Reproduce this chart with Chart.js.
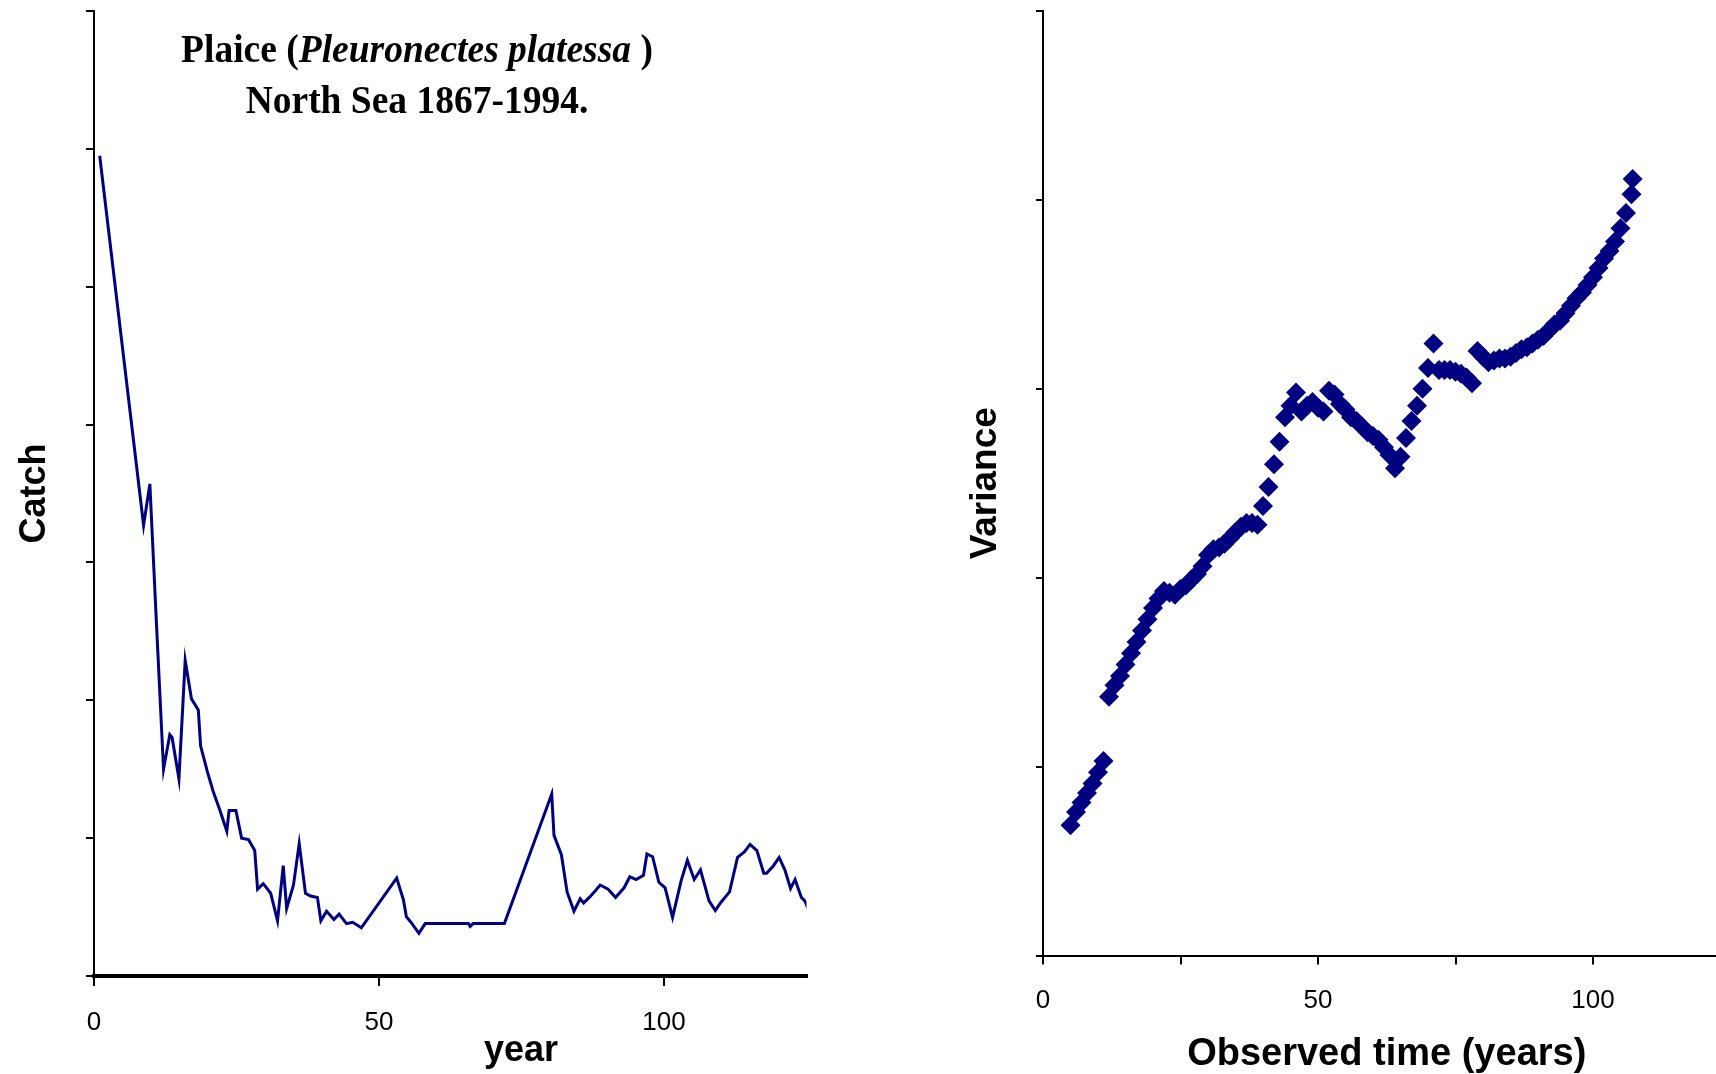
<!DOCTYPE html>
<html>
<head>
<meta charset="utf-8">
<script src="https://cdn.jsdelivr.net/npm/chart.js@4.4.1/dist/chart.umd.min.js"></script>
<style>
    html, body { margin: 0; padding: 0; background: #fff; overflow: hidden; }
    body { width: 1716px; height: 1074px; position: relative; }
    canvas { position: absolute; top: 0; }
    #catch-chart { left: 0; }
    #variance-chart { left: 880px; }
    .chart-title {
        position: absolute; left: 117px; top: 24px; width: 600px;
        text-align: center; font-family: 'Liberation Serif', 'Times New Roman', serif;
        font-weight: bold; font-size: 37.5px; line-height: 47.5px; color: #000;
        transform: scale(1, 1.06); transform-origin: 50% 0;
    }
    .axis-label {
        position: absolute; font-family: 'Liberation Sans', Arial, sans-serif;
        font-weight: bold; font-size: 36px; line-height: 40px; color: #000;
    }
</style>
</head>
<body>
<canvas id="catch-chart" width="860" height="1074"></canvas>
<canvas id="variance-chart" width="880" height="1074"></canvas>
<div class="chart-title">Plaice (<i>Pleuronectes platessa</i> )<br>North Sea 1867-1994.</div>
<div class="axis-label" style="left:441px; top:1029px; width:160px; text-align:center;">year</div>
<script>
// left panel: catch per year (vertices)
const catchYears = [1, 8.7, 9.8, 11, 12.2, 13.3, 13.7, 14.9, 16, 17.1, 18.3, 18.7, 19.9, 20.9, 22.1, 23.3,
    23.7, 24.9, 25.9, 27.1, 28.2, 28.7, 29.7, 31, 32.2, 33.2, 33.8, 35, 36, 37.1, 38, 39.2, 39.8, 40.8,
    42.1, 43, 44.3, 45.4, 46.9, 53.1, 54.3, 54.8, 55.6, 57, 58.1, 65.7, 66, 66.5, 72, 80.3, 80.7, 82, 83,
    84.2, 85.3, 85.9, 86.9, 88, 88.8, 90.2, 91.5, 93, 94, 95.1, 96.4, 97, 98, 99.1, 100.2, 101.5, 103,
    104.1, 105.3, 106.4, 107.9, 109, 109.9, 111.5, 112.9, 114.1, 115.1, 116.3, 117.5, 118, 119.2, 120.2,
    121.2, 122.2, 123, 124.1, 124.7, 126];
const catchValues = [5.95, 3.27, 3.57, 2.52, 1.50, 1.75, 1.73, 1.43, 2.29, 2.01, 1.93, 1.67, 1.48, 1.34,
    1.20, 1.05, 1.20, 1.20, 1.00, 0.99, 0.91, 0.63, 0.67, 0.60, 0.40, 0.80, 0.49, 0.66, 0.96, 0.60, 0.58,
    0.57, 0.40, 0.47, 0.41, 0.45, 0.38, 0.39, 0.35, 0.71, 0.55, 0.43, 0.39, 0.31, 0.38, 0.38, 0.36, 0.38,
    0.38, 1.32, 1.02, 0.88, 0.61, 0.47, 0.56, 0.53, 0.57, 0.62, 0.66, 0.63, 0.57, 0.64, 0.72, 0.70, 0.73,
    0.885, 0.865, 0.68, 0.64, 0.425, 0.69, 0.84, 0.70, 0.77, 0.545, 0.475, 0.53, 0.61, 0.86, 0.90, 0.955,
    0.91, 0.745, 0.745, 0.80, 0.86, 0.77, 0.635, 0.70, 0.57, 0.545, 0.42];

// right panel: variance against observed time
const observedTimes = [5, 6, 7, 8, 9, 10, 11, 12, 13, 14, 15, 16, 17, 18, 19, 20, 21, 22, 23, 24, 25, 26,
    27, 28, 29, 30, 31, 32, 33, 34, 35, 36, 37, 38, 39, 40, 41, 42, 43, 44, 45, 46, 47, 48, 49, 50, 51,
    52, 53, 54, 55, 56, 57, 58, 59, 60, 61, 62, 63, 64, 65, 66, 67, 68, 69, 70, 71, 72, 73, 74, 75, 76,
    77, 78, 79, 80, 81, 82, 83, 84, 85, 86, 87, 88, 89, 90, 91, 92, 93, 94, 95, 96, 97, 98, 99, 100, 101,
    102, 103, 104, 105, 106, 107, 107.2];
const variances = [0.69, 0.76, 0.81, 0.86, 0.91, 0.97, 1.03, 1.37, 1.43, 1.48, 1.54, 1.60, 1.66, 1.72,
    1.78, 1.84, 1.89, 1.93, 1.92, 1.91, 1.94, 1.96, 1.99, 2.02, 2.06, 2.12, 2.15, 2.16, 2.18, 2.21, 2.24,
    2.27, 2.29, 2.29, 2.28, 2.38, 2.48, 2.60, 2.72, 2.85, 2.91, 2.98, 2.88, 2.91, 2.93, 2.90, 2.88, 2.99,
    2.97, 2.92, 2.89, 2.85, 2.83, 2.80, 2.77, 2.75, 2.73, 2.69, 2.65, 2.58, 2.64, 2.74, 2.83, 2.91, 3.00,
    3.11, 3.24, 3.10, 3.10, 3.10, 3.09, 3.08, 3.06, 3.03, 3.20, 3.17, 3.14, 3.15, 3.16, 3.16, 3.17, 3.19,
    3.21, 3.22, 3.24, 3.26, 3.28, 3.31, 3.34, 3.36, 3.40, 3.44, 3.48, 3.51, 3.55, 3.59, 3.64, 3.69, 3.73,
    3.78, 3.85, 3.93, 4.03, 4.11];

const NAVY = '#000080';
const tickFont = { family: "'Liberation Sans Narrow', 'Liberation Sans', Arial, sans-serif", size: 26 };
const titleFont = { family: "'Liberation Sans', Arial, sans-serif", size: 36, weight: 'bold' };
const bigTitleFont = { family: "'Liberation Sans', Arial, sans-serif", size: 38, weight: 'bold' };

function axisGrid(len) {
    return { drawOnChartArea: false, drawTicks: true, tickLength: len, color: '#000', lineWidth: 2 };
}

new Chart(document.getElementById('catch-chart').getContext('2d'), {
    type: 'line',
    data: {
        datasets: [{
            data: catchYears.map((x, i) => ({ x, y: catchValues[i] })),
            borderColor: NAVY,
            borderWidth: 3,
            pointRadius: 0,
            tension: 0,
        }],
    },
    options: {
        responsive: false,
        animation: false,
        devicePixelRatio: 1,
        layout: { padding: { top: 11, right: 53.5, left: 0, bottom: 0 } },
        plugins: { legend: { display: false }, tooltip: { enabled: false } },
        scales: {
            x: {
                type: 'linear', min: 0, max: 125,
                border: { display: true, color: '#000', width: 4 },
                grid: axisGrid(10),
                ticks: { stepSize: 50, includeBounds: false, color: '#000', font: tickFont, padding: 21.5, maxRotation: 0 },
                afterFit(s) { s.height = 98; },
            },
            y: {
                min: 0, max: 7,
                border: { display: true, color: '#000', width: 2 },
                grid: axisGrid(8),
                ticks: { stepSize: 1, callback: () => '' },
                title: { display: true, text: 'Catch', color: '#000', font: titleFont, padding: { top: 13.8, bottom: 0 } },
                afterFit(s) { s.width = 94; },
            },
        },
    },
});

new Chart(document.getElementById('variance-chart').getContext('2d'), {
    type: 'scatter',
    data: {
        datasets: [{
            data: observedTimes.map((x, i) => ({ x, y: variances[i] })),
            pointStyle: 'rectRot',
            pointRadius: 10,
            backgroundColor: NAVY,
            borderColor: NAVY,
            borderWidth: 0,
        }],
    },
    options: {
        responsive: false,
        animation: false,
        devicePixelRatio: 1,
        layout: { padding: { top: 11, right: 29.5, left: 0, bottom: 0 } },
        plugins: { legend: { display: false }, tooltip: { enabled: false } },
        scales: {
            x: {
                type: 'linear', min: 0, max: 125,
                border: { display: true, color: '#000', width: 2 },
                grid: axisGrid(9),
                ticks: {
                    stepSize: 25, color: '#000', font: tickFont, padding: 20.5, maxRotation: 0,
                    callback: (v) => (v % 50 === 0 && v < 125 ? String(v) : ''),
                },
                title: { display: true, text: 'Observed time (years)', color: '#000', font: bigTitleFont, padding: { top: 0, bottom: -3.5 } },
                afterFit(s) { s.height = 118.5; },
            },
            y: {
                min: 0, max: 5,
                border: { display: true, color: '#000', width: 2 },
                grid: axisGrid(7),
                ticks: { stepSize: 1, callback: () => '' },
                title: { display: true, text: 'Variance', color: '#000', font: { ...titleFont, size: 37 }, padding: { top: 83.6, bottom: 0 } },
                afterFit(s) { s.width = 163; },
            },
        },
    },
});
</script>
</body>
</html>
